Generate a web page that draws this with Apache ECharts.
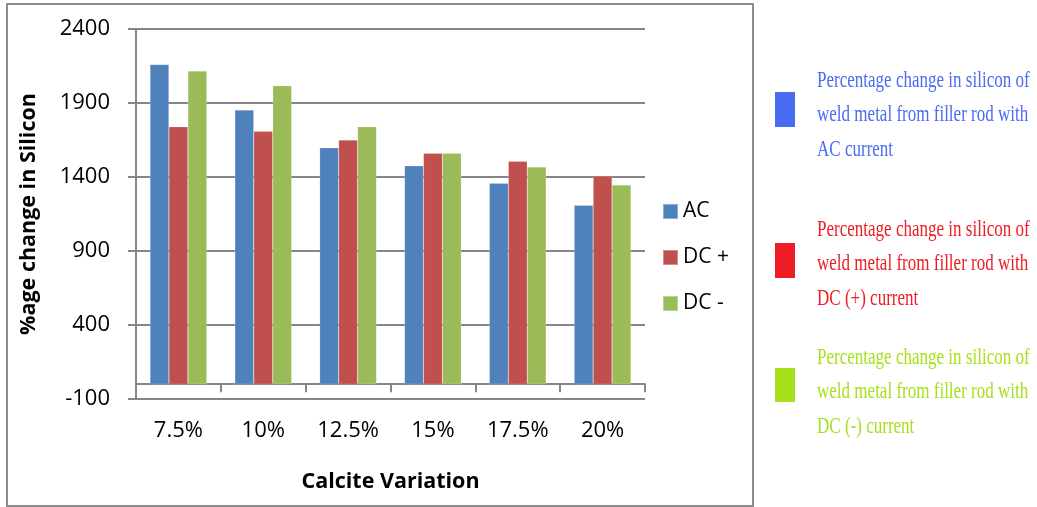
<!DOCTYPE html>
<html>
<head>
<meta charset="utf-8">
<script src="https://cdn.jsdelivr.net/npm/echarts@6/dist/echarts.min.js"></script>
<style>
  html, body { margin: 0; padding: 0; background: #ffffff; }
  #chart { width: 1037px; height: 507px; }
</style>
</head>
<body>
<div id="chart"></div>
<script>
// Calcite variation in the flux coating
const categories = ['7.5%', '10%', '12.5%', '15%', '17.5%', '20%'];
// %age change in silicon of the weld metal for each welding current
const acValues = [2160, 1853, 1598, 1476, 1357, 1209];
const dcPlusValues = [1740, 1709, 1650, 1560, 1506, 1407];
const dcMinusValues = [2116, 2017, 1740, 1560, 1468, 1346];
const seriesNames = ['AC', 'DC +', 'DC -'];
// value axis range and step
const yMin = -100, yMax = 2400, yStep = 500;

// side key describing each current type
const keyBlocks = [
  { color: '#4a6cf2', lines: ['Percentage change in silicon of', 'weld metal from filler rod with', 'AC current'] },
  { color: '#ee1c24', lines: ['Percentage change in silicon of', 'weld metal from filler rod with', 'DC (+) current'] },
  { color: '#a6e11b', lines: ['Percentage change in silicon of', 'weld metal from filler rod with', 'DC (-) current'] }
];

const barColors = ['#4f81bd', '#c0504d', '#9bbb59'];
const axisGray = '#868686';
const uiFont = 'Open Sans';

const graphics = [
  { type: 'rect', shape: { x: 7, y: 4, width: 746, height: 502 },
    style: { fill: 'none', stroke: '#8c8c8c', lineWidth: 2 }, silent: true }
];
const blockTops = [92, 241, 369];
const blockSquares = [[92, 35], [243, 35], [368, 34]];
keyBlocks.forEach((b, i) => {
  graphics.push({ type: 'rect', shape: { x: 775, y: blockSquares[i][0], width: 20, height: blockSquares[i][1] },
    style: { fill: b.color } });
  b.lines.forEach((t, j) => {
    graphics.push({
      type: 'text', x: 817, y: blockTops[i] + j * 34.5, scaleX: 0.74, originX: 0, originY: 0,
      style: { text: t, fill: b.color, font: '23px "Liberation Serif"', textVerticalAlign: 'bottom', textAlign: 'left' }
    });
  });
});

const chart = echarts.init(document.getElementById('chart'), null, { renderer: 'canvas' });
chart.setOption({
  animation: false,
  backgroundColor: '#ffffff',
  textStyle: { fontFamily: uiFont },
  grid: { left: 136, right: 392, top: 29, bottom: 108, containLabel: false },
  legend: {
    data: seriesNames, orient: 'vertical', left: 657, top: 196,
    itemWidth: 15, itemHeight: 15, itemGap: 25, icon: 'rect',
    textStyle: { fontFamily: uiFont, fontSize: 21, color: '#000' }
  },
  xAxis: {
    type: 'category', data: categories,
    name: 'Calcite Variation', nameLocation: 'middle', nameGap: 72,
    nameTextStyle: { fontFamily: uiFont, fontWeight: 'bold', fontSize: 21.5, color: '#000' },
    axisLine: { onZero: true, lineStyle: { color: axisGray, width: 2 } },
    axisTick: { show: true, length: 8, lineStyle: { color: axisGray, width: 2 } },
    axisLabel: { margin: 21, fontFamily: uiFont, fontSize: 22, color: '#000' }
  },
  yAxis: {
    type: 'value', min: yMin, max: yMax, interval: yStep,
    name: '%age change in Silicon', nameLocation: 'middle', nameRotate: 90, nameGap: 96,
    nameTextStyle: { fontFamily: uiFont, fontWeight: 'bold', fontSize: 21.5, color: '#000' },
    axisLine: { show: true, lineStyle: { color: axisGray, width: 2 } },
    axisTick: { show: true, length: 8, lineStyle: { color: axisGray, width: 2 } },
    axisLabel: { margin: 26, fontFamily: uiFont, fontSize: 22, color: '#000', formatter: v => String(v) },
    splitLine: { show: true, lineStyle: { color: axisGray, width: 2 } }
  },
  series: [acValues, dcPlusValues, dcMinusValues].map((vals, i) => ({
    type: 'bar', name: seriesNames[i], data: vals,
    barGap: '0%', barCategoryGap: '33%',
    itemStyle: { color: barColors[i], borderColor: 'rgba(255,255,255,0.35)', borderWidth: 0.5 }
  })),
  graphic: graphics
});
</script>
</body>
</html>
